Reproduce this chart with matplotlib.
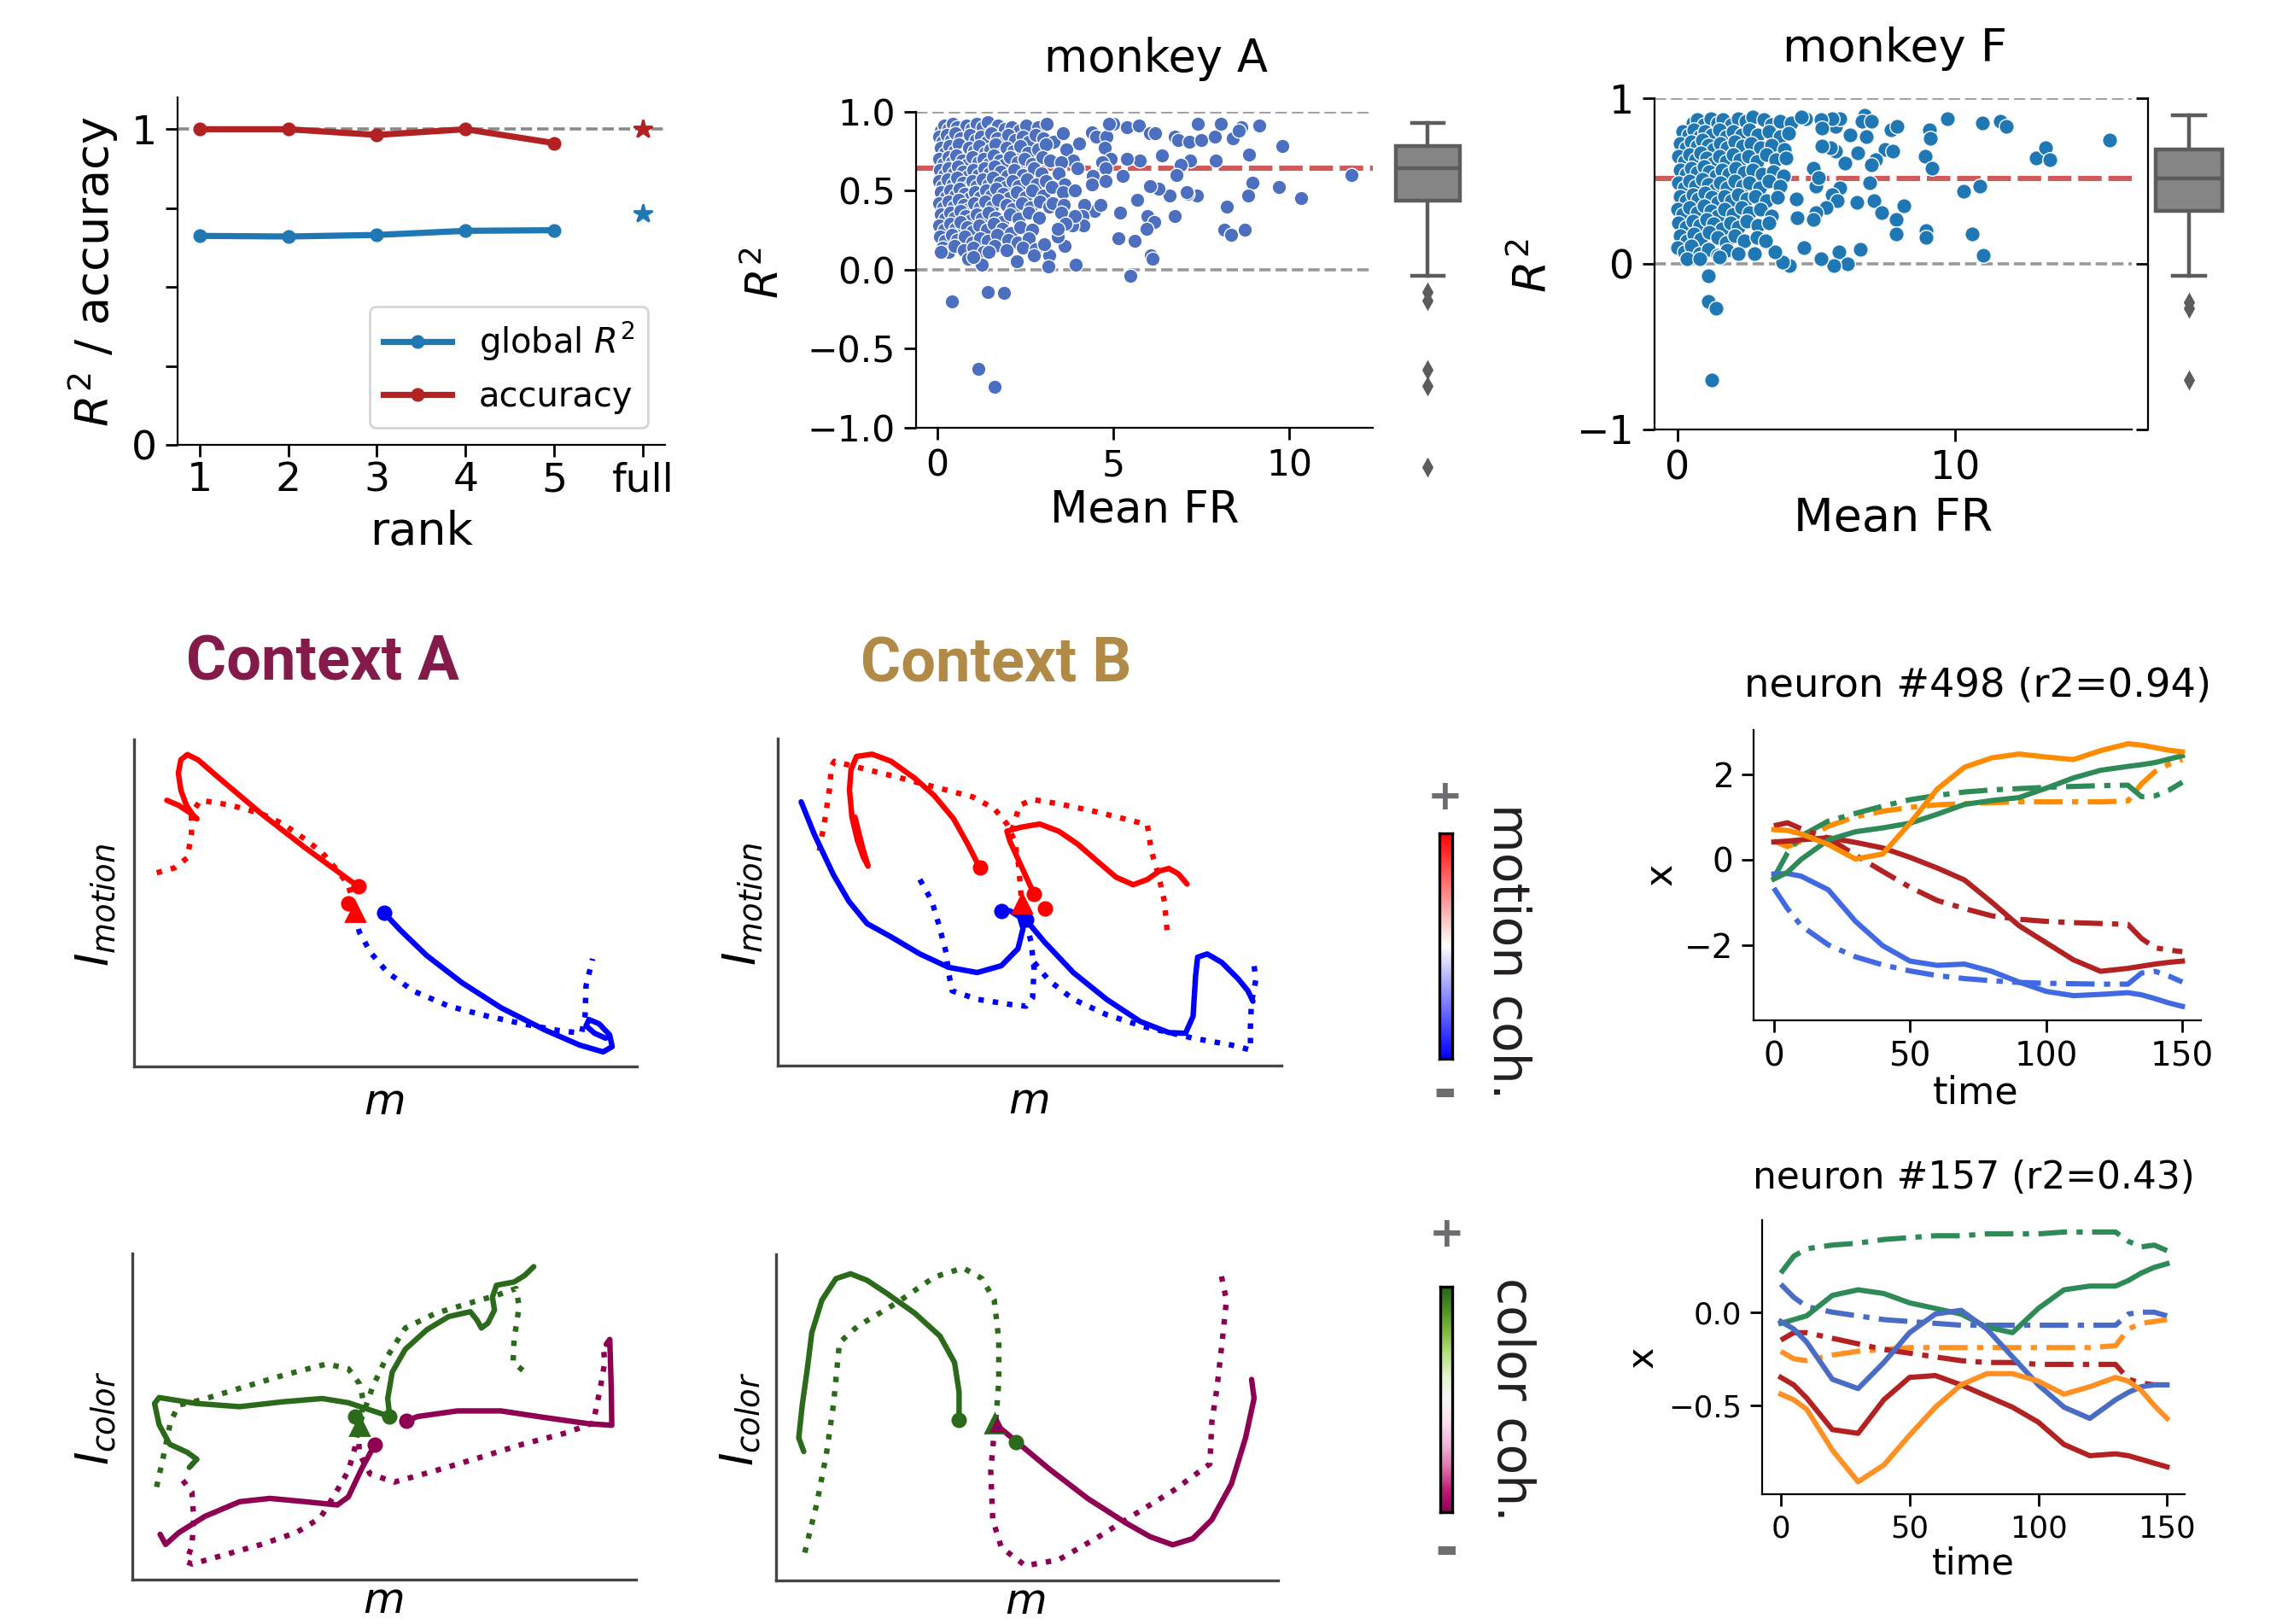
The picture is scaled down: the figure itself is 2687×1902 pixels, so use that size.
import matplotlib
matplotlib.use('Agg')
import matplotlib.pyplot as plt
import numpy as np

plt.rcParams['font.family'] = ['DejaVu Sans']
plt.rcParams['mathtext.fontset'] = 'dejavusans'

# ------------------------------------------------------------------ data
ranks = [1, 2, 3, 4, 5]
rank_ticklabels = ['1', '2', '3', '4', '5', 'full']
global_r2 = [0.662, 0.660, 0.665, 0.678, 0.680]
accuracy = [1.0, 1.0, 0.982, 1.0, 0.956]
full_rank_pos = 6
full_r2 = 0.734
full_acc = 1.0

monkeyA_pts = [
    (0.10,0.88),(0.21,0.91),(0.32,0.89),(0.44,0.92),(0.56,0.90),(0.68,0.87),(0.83,0.91),(0.97,0.89),(1.12,0.92),(1.28,0.90),(1.44,0.93),(1.58,0.88),(1.74,0.91),(1.92,0.89),(2.12,0.90),(2.33,0.88),(2.52,0.91),(2.88,0.90),(3.12,0.92),
    (0.06,0.84),(0.16,0.81),(0.27,0.85),(0.39,0.82),(0.52,0.86),(0.66,0.83),(0.79,0.80),(0.94,0.85),(1.09,0.82),(1.24,0.84),(1.41,0.81),(1.54,0.86),(1.71,0.83),(1.86,0.80),(2.02,0.85),(2.21,0.82),(2.42,0.84),(2.61,0.81),(2.79,0.85),(3.02,0.83),(3.31,0.81),
    (0.11,0.77),(0.23,0.74),(0.34,0.78),(0.49,0.75),(0.61,0.79),(0.76,0.73),(0.91,0.77),(1.04,0.75),(1.19,0.78),(1.36,0.74),(1.51,0.76),(1.66,0.79),(1.81,0.73),(1.96,0.77),(2.16,0.75),(2.37,0.78),(2.58,0.74),(2.86,0.76),(3.08,0.79),
    (0.05,0.70),(0.17,0.67),(0.31,0.71),(0.43,0.68),(0.54,0.72),(0.71,0.69),(0.84,0.66),(0.99,0.71),(1.16,0.68),(1.31,0.70),(1.46,0.67),(1.61,0.72),(1.77,0.69),(1.89,0.66),(2.06,0.71),(2.29,0.68),(2.49,0.70),(2.71,0.67),(2.98,0.71),(3.21,0.69),
    (0.08,0.63),(0.19,0.60),(0.33,0.64),(0.47,0.61),(0.59,0.65),(0.74,0.62),(0.89,0.59),(1.03,0.63),(1.18,0.60),(1.33,0.64),(1.49,0.61),(1.63,0.65),(1.79,0.62),(1.99,0.59),(2.19,0.63),(2.44,0.60),(2.74,0.64),(2.96,0.61),
    (0.05,0.56),(0.16,0.53),(0.29,0.57),(0.45,0.54),(0.57,0.58),(0.73,0.55),(0.87,0.52),(1.01,0.56),(1.13,0.53),(1.29,0.57),(1.47,0.54),(1.59,0.58),(1.78,0.55),(1.94,0.52),(2.13,0.56),(2.31,0.53),(2.56,0.57),(2.81,0.54),(3.09,0.56),
    (0.10,0.49),(0.24,0.46),(0.37,0.50),(0.51,0.47),(0.63,0.51),(0.79,0.48),(0.93,0.45),(1.07,0.49),(1.23,0.46),(1.39,0.50),(1.53,0.47),(1.69,0.51),(1.87,0.48),(2.04,0.45),(2.26,0.49),(2.51,0.46),(2.69,0.50),(3.01,0.47),
    (0.05,0.42),(0.18,0.39),(0.31,0.43),(0.47,0.40),(0.61,0.44),(0.75,0.41),(0.89,0.38),(1.06,0.42),(1.21,0.39),(1.36,0.43),(1.56,0.40),(1.74,0.44),(1.96,0.41),(2.14,0.38),(2.41,0.42),(2.66,0.39),(2.91,0.43),(3.19,0.40),
    (0.10,0.35),(0.23,0.32),(0.36,0.36),(0.49,0.33),(0.66,0.37),(0.81,0.34),(0.96,0.31),(1.11,0.35),(1.27,0.32),(1.46,0.36),(1.66,0.33),(1.84,0.30),(2.06,0.35),(2.31,0.32),(2.61,0.36),(2.89,0.33),
    (0.05,0.28),(0.21,0.25),(0.36,0.29),(0.51,0.26),(0.67,0.30),(0.86,0.27),(1.01,0.24),(1.19,0.28),(1.41,0.25),(1.61,0.29),(1.86,0.26),(2.09,0.23),(2.36,0.27),(2.71,0.25),
    (0.08,0.21),(0.23,0.18),(0.41,0.22),(0.57,0.19),(0.79,0.21),(0.99,0.17),(1.21,0.20),(1.44,0.18),(1.71,0.22),(2.01,0.19),(2.29,0.17),(2.61,0.20),
    (0.14,0.14),(0.31,0.11),(0.49,0.15),(0.76,0.12),(1.02,0.14),(1.31,0.11),(1.62,0.15),(1.98,0.12),(2.42,0.14),(2.79,0.13),
    (1.27,0.03),(0.89,0.07),(1.02,0.08),(2.27,0.05),(2.74,0.09),(0.11,0.11),(1.45,0.11),
    (0.43,-0.20),(1.43,-0.14),(1.89,-0.15),(1.17,-0.63),(1.62,-0.74),
    (4.40,0.87),(4.51,0.84),(4.82,0.84),(4.75,0.77),(4.93,0.70),(4.68,0.68),(4.79,0.64),(4.43,0.59),(4.40,0.54),(4.79,0.56),
    (4.48,0.37),(4.65,0.41),(4.19,0.41),(4.12,0.34),(4.15,0.28),(3.84,0.28),(3.94,0.03),(3.62,0.15),(3.43,0.21),(3.18,0.09),
    (3.15,0.02),(3.05,0.16),(4.03,0.80),(3.57,0.86),(3.68,0.76),(3.87,0.69),(3.98,0.64),(3.52,0.68),(3.45,0.61),(3.61,0.54),
    (3.26,0.52),(3.57,0.49),(3.91,0.50),(3.29,0.42),(3.59,0.41),(3.52,0.36),(3.90,0.34),(3.64,0.29),(3.43,0.26),
    (5.00,0.92),(5.38,0.90),(5.72,0.91),(6.04,0.86),(6.18,0.86),(6.74,0.84),(6.84,0.82),(7.16,0.81),(7.40,0.92),(7.51,0.82),
    (7.88,0.84),(8.05,0.92),(8.40,0.83),(8.65,0.90),(8.58,0.88),(9.14,0.91),(9.80,0.78),(8.86,0.73),(7.92,0.69),(7.19,0.69),
    (6.91,0.66),(6.80,0.60),(6.38,0.72),(5.75,0.69),(5.40,0.70),(5.26,0.59),(11.78,0.60),(8.95,0.55),(9.72,0.52),(10.33,0.45),
    (8.83,0.47),(8.23,0.40),(8.15,0.25),(8.34,0.22),(8.75,0.25),(7.38,0.47),(7.11,0.48),(7.08,0.49),(6.60,0.47),(6.28,0.51),
    (6.04,0.53),(5.68,0.44),(5.19,0.36),(5.98,0.34),(6.17,0.30),(5.96,0.26),(6.74,0.34),(5.14,0.20),(5.60,0.18),(6.07,0.09),
    (6.11,0.07),(5.49,-0.04),(4.89,0.92),
]
monkeyA_box = dict(med=0.641, q1=0.434, q3=0.784, whislo=-0.038, whishi=0.927,
                   fliers=[-0.144, -0.196, -0.633, -0.738, -1.248])
monkeyA_median = 0.641

monkeyF_pts = [
    (0.55,0.85),(0.70,0.87),(0.95,0.84),(1.20,0.88),(1.45,0.85),(1.65,0.87),(1.95,0.84),(2.20,0.88),(2.45,0.86),(2.70,0.89),(3.10,0.87),(3.40,0.84),(3.70,0.86),(4.10,0.85),
    (0.20,0.80),(0.40,0.78),(0.60,0.81),(0.80,0.77),(1.00,0.80),(1.25,0.78),(1.50,0.81),(1.75,0.77),(2.00,0.80),(2.30,0.78),(2.60,0.81),(2.90,0.78),(3.30,0.80),(3.70,0.77),(4.00,0.79),
    (0.10,0.73),(0.30,0.70),(0.50,0.74),(0.70,0.71),(0.90,0.75),(1.10,0.72),(1.30,0.69),(1.55,0.73),(1.80,0.70),(2.05,0.74),(2.35,0.71),(2.65,0.73),(3.00,0.70),(3.40,0.72),(3.85,0.69),
    (0.05,0.65),(0.25,0.62),(0.45,0.66),(0.65,0.63),(0.85,0.67),(1.05,0.64),(1.30,0.61),(1.50,0.65),(1.75,0.62),(2.00,0.66),(2.25,0.63),(2.55,0.65),(2.85,0.62),(3.20,0.66),(3.55,0.63),(3.90,0.64),
    (0.10,0.57),(0.30,0.54),(0.50,0.58),(0.70,0.55),(0.95,0.59),(1.15,0.56),(1.40,0.53),(1.60,0.57),(1.85,0.54),(2.10,0.58),(2.40,0.55),(2.70,0.57),(3.05,0.54),(3.45,0.56),(3.80,0.53),
    (0.05,0.49),(0.25,0.46),(0.45,0.50),(0.65,0.47),(0.90,0.51),(1.10,0.48),(1.35,0.45),(1.55,0.49),(1.80,0.46),(2.05,0.50),(2.35,0.47),(2.60,0.49),(2.95,0.46),(3.30,0.50),(3.70,0.47),
    (0.10,0.41),(0.30,0.38),(0.55,0.42),(0.75,0.39),(1.00,0.43),(1.25,0.40),(1.45,0.37),(1.70,0.41),(1.95,0.38),(2.20,0.42),(2.50,0.39),(2.80,0.41),(3.20,0.38),(3.60,0.40),
    (0.00,0.33),(0.20,0.30),(0.45,0.34),(0.70,0.31),(0.95,0.35),(1.20,0.32),(1.45,0.29),(1.70,0.33),(2.00,0.30),(2.30,0.34),(2.60,0.31),(3.00,0.33),(3.40,0.29),
    (0.05,0.25),(0.30,0.22),(0.55,0.26),(0.80,0.23),(1.05,0.27),(1.30,0.24),(1.60,0.21),(1.90,0.25),(2.20,0.22),(2.50,0.26),(2.90,0.23),(3.30,0.25),
    (0.10,0.17),(0.35,0.14),(0.60,0.18),(0.85,0.15),(1.15,0.19),(1.45,0.16),(1.75,0.13),(2.05,0.17),(2.40,0.14),(2.85,0.16),
    (0.00,0.10),(0.25,0.07),(0.50,0.11),(0.80,0.06),(1.10,0.09),(1.45,0.05),(1.80,0.08),(2.20,0.06),
    (0.35,0.03),(0.80,0.03),(1.50,0.04),(2.75,0.06),
    (1.10,-0.07),(1.10,-0.23),(1.40,-0.27),(1.23,-0.70),
    (6.74,0.90),(6.65,0.86),(6.97,0.86),(7.67,0.81),(7.90,0.83),(6.21,0.78),(6.78,0.77),(9.72,0.88),(9.05,0.81),(9.09,0.76),
    (8.90,0.65),(9.17,0.58),(10.97,0.85),(11.61,0.86),(11.84,0.83),(15.55,0.75),(12.90,0.64),(13.24,0.70),(13.39,0.63),(7.48,0.69),
    (7.73,0.68),(7.12,0.63),(6.99,0.60),(6.50,0.67),(6.02,0.61),(6.91,0.49),(10.30,0.44),(10.89,0.47),(6.46,0.37),(7.06,0.38),
    (7.35,0.31),(8.13,0.35),(7.86,0.27),(7.88,0.18),(8.94,0.20),(8.94,0.16),(10.59,0.18),(11.00,0.05),(6.59,0.09),(5.80,0.07),
    (6.11,0.00),(5.64,-0.01),(5.17,0.03),(5.85,0.46),(5.55,0.42),(5.74,0.38),(5.36,0.34),(4.98,0.47),(4.98,0.31),(4.89,0.27),
    (4.55,0.10),(5.70,0.68),(5.51,0.70),(5.21,0.71),(4.89,0.58),(5.08,0.52),(5.70,0.83),(5.83,0.88),(5.55,0.88),(5.17,0.87),
    (5.21,0.82),(4.60,0.88),(4.47,0.89),(4.26,0.39),(4.30,0.28),(4.03,-0.01),(3.79,0.01),(3.50,0.07),(3.18,0.14),(2.77,0.06),
]
monkeyF_box = dict(med=0.518, q1=0.322, q3=0.694, whislo=-0.074, whishi=0.898,
                   fliers=[-0.235, -0.27, -0.704])
monkeyF_median = 0.517

# trajectories (arbitrary units, 0-100 on both axes)
ctxA_mot_red_solid = [(44.6,55.0),(34.0,66.9),(25.3,77.3),(16.6,88.6),(12.7,93.8),(10.6,95.4),(9.3,93.8),(8.8,89.7),(9.3,84.5),(10.4,79.9),(11.9,76.4),(12.5,75.7),(11.4,77.3),(8.8,79.9),(6.5,81.4)]
ctxA_mot_red_dot = [(4.5,59.2),(8.0,60.7),(10.6,63.8),(11.4,71.1),(11.4,77.3),(13.2,81.4),(19.2,79.9),(25.3,77.3),(29.6,74.2),(34.0,69.5),(37.4,65.4),(40.0,60.7),(42.6,55.6),(43.5,50.4),(43.9,46.8)]
ctxA_mot_blue_solid = [(49.7,47.0),(53.0,41.6),(58.2,33.9),(65.2,25.6),(73.0,17.9),(81.6,11.2),(88.6,6.5),(93.3,4.4),(95.1,6.0),(94.6,9.6),(92.5,13.0),(90.5,14.3),(89.9,12.4),(91.6,10.1),(93.8,8.6)]
ctxA_mot_blue_dot = [(43.9,46.3),(44.8,41.1),(47.0,34.9),(50.4,28.7),(55.6,23.0),(62.6,18.4),(70.4,15.3),(77.3,13.0),(84.2,11.0),(89.0,10.1),(89.7,15.3),(89.9,24.6),(91.2,32.9)]
ctxA_mot_red_ends = [(44.6,55.0),(42.6,49.9)]
ctxA_mot_blue_ends = [(49.7,47.0)]
ctxA_mot_start = (43.9,47.3)

ctxB_mot_red_solid1 = [(40.1,60.5),(37.9,67.2),(34.9,75.5),(31.0,82.7),(27.2,87.9),(22.5,93.1),(18.7,95.3),(15.6,94.6),(14.5,90.5),(14.2,84.3),(14.7,76.0),(15.8,68.8),(17.0,63.6),(17.9,61.0),(16.8,66.7),(15.3,76.0)]
ctxB_mot_red_solid2 = [(50.9,52.4),(48.2,61.5),(46.1,68.6),(45.5,71.7),(48.2,72.9),(52.0,73.9),(55.8,71.7),(59.6,67.7),(63.4,62.6),(67.2,57.6),(70.6,55.3),(73.4,56.9),(75.8,59.5),(77.7,60.3),(79.6,58.6),(81.3,55.5)]
ctxB_mot_red_dot1 = [(8.2,65.7),(9.4,76.0),(10.3,85.3),(10.6,91.5),(11.2,93.1),(15.8,91.3),(23.4,88.4),(31.0,85.3),(38.7,82.2),(43.0,78.6),(45.5,73.9),(47.0,68.8),(47.8,61.5),(48.2,54.3),(48.4,50.2)]
ctxB_mot_red_dot2 = [(46.5,71.9),(48.0,79.6),(50.6,81.4),(55.8,80.1),(63.4,77.6),(73.4,73.7),(74.2,65.7),(75.6,58.4),(76.8,50.2),(77.4,40.3)]
ctxB_mot_blue_solid1 = [(4.6,80.7),(7.2,70.8),(11.0,58.4),(14.1,50.2),(17.7,43.4),(22.5,39.3),(28.2,34.1),(33.9,30.0),(39.6,28.4),(44.4,30.5),(47.7,35.7),(48.7,41.9),(48.0,45.5),(46.1,47.3),(44.4,47.3)]
ctxB_mot_blue_solid2 = [(49.3,44.5),(53.0,37.7),(58.7,28.4),(65.3,20.2),(72.0,13.4),(77.7,10.0),(81.0,9.8),(82.5,15.0),(83.0,27.4),(83.4,33.1),(85.3,34.1),(88.2,31.5),(91.5,26.4),(93.4,22.8),(94.4,19.6)]
ctxB_mot_blue_dot1 = [(28.2,56.9),(30.6,50.2),(32.0,42.9),(33.4,34.6),(33.9,28.4),(34.6,22.8),(39.6,20.2),(46.3,18.6),(49.3,18.1),(50.6,20.7),(50.9,29.5),(50.3,37.7),(49.3,44.0)]
ctxB_mot_blue_dot2 = [(50.9,31.5),(53.9,25.9),(58.7,20.2),(65.3,15.5),(73.0,11.7),(82.5,8.3),(90.1,6.2),(93.9,4.7),(93.9,11.9),(94.1,19.1),(95.0,26.4),(94.4,32.8)]
ctxB_mot_red_ends = [(40.1,60.5),(50.9,52.4),(53.0,48.1)]
ctxB_mot_blue_ends = [(44.4,47.3),(49.3,44.5)]
ctxB_mot_start = (48.4,49.6)

ctxA_col_green_solid1 = [(51.1,50.0),(50.7,55.5),(51.6,63.6),(54.2,70.6),(58.5,76.6),(62.8,80.6),(67.1,82.1),(68.4,79.6),(69.3,77.1),(70.6,78.6),(71.9,82.6),(71.5,86.6),(72.3,90.2),(75.8,91.2),(77.9,93.2),(79.7,95.9)]
ctxA_col_green_solid2 = [(51.1,50.0),(47.2,52.0),(42.9,54.2),(37.7,55.5),(29.9,54.5),(21.3,53.0),(12.6,54.0),(5.3,55.8),(4.4,54.0),(5.3,47.5),(7.4,41.5),(10.9,39.0),(12.8,36.9),(11.3,34.4)]
ctxA_col_green_dot1 = [(4.8,28.4),(6.1,37.4),(7.6,48.5),(9.2,53.5),(13.5,55.0),(22.1,59.0),(29.9,62.6),(38.6,66.1),(42.9,64.6),(45.1,60.0),(45.9,54.5),(45.3,48.5)]
ctxA_col_green_dot2 = [(45.3,48.5),(47.7,59.0),(50.3,67.6),(54.2,77.1),(60.2,81.6),(67.1,84.8),(72.3,87.1),(76.2,89.2),(76.8,83.6),(75.8,73.6),(75.6,66.6),(77.8,63.8)]
ctxA_col_mag_solid1 = [(48.1,41.3),(45.5,33.9),(42.9,25.4),(40.7,22.9),(34.3,23.9),(27.3,24.9),(21.3,23.9),(14.4,19.4),(9.2,14.4),(6.6,10.8),(5.5,13.9)]
ctxA_col_mag_solid2 = [(54.4,48.7),(56.7,50.0),(64.5,51.7),(73.2,51.7),(81.8,49.7),(90.5,47.8),(95.2,47.3),(95.1,58.5),(94.8,73.6),(94.1,72.1)]
ctxA_col_mag_dot1 = [(10.0,30.4),(11.8,26.9),(12.2,18.4),(11.8,10.3),(10.7,5.5),(11.9,4.8),(18.7,7.8),(25.6,10.8),(32.5,14.4),(37.3,18.9),(40.3,26.4),(42.9,33.4),(44.2,40.5),(44.8,46.0)]
ctxA_col_mag_dot2 = [(44.8,46.0),(45.1,38.5),(47.2,32.4),(52.0,29.9),(60.2,33.4),(68.9,37.4),(77.5,41.5),(86.2,45.0),(91.5,48.0),(92.9,58.5),(93.8,66.6),(93.5,71.8)]
ctxA_col_green_ends = [(51.1,50.0),(44.2,50.0)]
ctxA_col_mag_ends = [(48.1,41.3),(54.4,48.7)]
ctxA_col_start = (45.1,47.0)

ctxB_col_green_solid = [(36.5,49.2),(36.5,57.8),(35.6,66.8),(32.7,74.9),(27.7,81.9),(22.2,87.9),(18.2,92.0),(14.9,94.0),(12.0,92.5),(9.2,85.9),(7.2,75.9),(6.3,64.8),(5.3,53.8),(4.6,43.7),(5.6,39.5)]
ctxB_col_green_dot = [(5.8,8.5),(8.2,23.6),(10.1,38.7),(11.5,53.8),(12.7,72.9),(16.3,77.9),(23.9,84.9),(31.6,93.0),(37.3,95.8),(41.1,92.5),(43.5,85.9),(44.4,73.9),(44.4,60.8),(43.8,48.7)]
ctxB_col_mag_solid = [(43.9,47.7),(47.8,42.7),(54.4,34.2),(62.1,25.1),(69.7,17.6),(74.5,13.4),(79.0,10.9),(83.0,12.8),(86.8,18.6),(90.7,29.6),(93.5,43.7),(95.2,55.8),(94.7,61.6)]
ctxB_col_mag_dot = [(43.6,47.2),(42.8,33.7),(43.2,18.6),(44.9,10.1),(49.7,4.5),(56.3,6.3),(64.0,13.1),(71.6,20.4),(79.2,27.6),(86.4,35.7),(86.8,48.7),(87.8,58.8),(88.9,73.9),(89.7,85.9),(88.6,94.0)]
ctxB_col_green_ends = [(36.5,49.2),(47.8,42.5)]
ctxB_col_start_green = (43.5,48.2)
ctxB_col_start_mag = (44.1,47.5)

# single-neuron traces
time_pts = [0, 5, 10, 20, 30, 40, 50, 60, 70, 80, 90, 100, 110, 120, 130, 135, 140, 145, 150]
n498_orange_solid = [0.70,0.68,0.60,0.35,0.01,0.13,0.85,1.65,2.16,2.38,2.47,2.40,2.34,2.55,2.71,2.68,2.62,2.56,2.52]
n498_orange_dd = [0.43,0.30,0.43,0.78,1.00,1.13,1.22,1.28,1.31,1.33,1.35,1.35,1.35,1.35,1.37,1.77,2.06,2.23,2.34]
n498_green_solid = [-0.46,-0.30,0.00,0.46,0.65,0.74,0.85,1.06,1.29,1.38,1.45,1.67,1.91,2.09,2.18,2.22,2.27,2.35,2.43]
n498_green_dd = [-0.43,0.15,0.55,0.90,1.08,1.25,1.40,1.50,1.58,1.63,1.66,1.69,1.71,1.73,1.74,1.47,1.49,1.62,1.81]
n498_red_solid = [0.41,0.43,0.46,0.51,0.40,0.27,0.05,-0.20,-0.48,-1.00,-1.55,-1.95,-2.35,-2.62,-2.55,-2.50,-2.45,-2.41,-2.38]
n498_red_dd = [0.79,0.86,0.72,0.50,0.10,-0.28,-0.65,-0.96,-1.15,-1.32,-1.40,-1.45,-1.48,-1.50,-1.52,-1.85,-2.07,-2.12,-2.16]
n498_blue_solid = [-0.34,-0.33,-0.39,-0.71,-1.45,-2.02,-2.38,-2.48,-2.45,-2.62,-2.87,-3.09,-3.19,-3.16,-3.12,-3.17,-3.26,-3.36,-3.44]
n498_blue_dd = [-0.67,-1.15,-1.55,-2.00,-2.28,-2.47,-2.61,-2.72,-2.79,-2.84,-2.88,-2.90,-2.91,-2.92,-2.92,-2.66,-2.62,-2.73,-2.87]

n157_green_dd = [0.21,0.30,0.34,0.36,0.37,0.39,0.40,0.41,0.41,0.42,0.42,0.42,0.43,0.43,0.43,0.38,0.35,0.36,0.33]
n157_green_solid = [-0.06,-0.04,-0.02,0.09,0.12,0.10,0.05,0.02,-0.01,-0.08,-0.11,0.02,0.12,0.14,0.14,0.17,0.21,0.24,0.26]
n157_blue_dd = [0.15,0.08,0.03,0.00,-0.02,-0.04,-0.05,-0.06,-0.07,-0.07,-0.07,-0.07,-0.07,-0.07,-0.07,-0.01,0.00,0.00,-0.02]
n157_blue_solid = [-0.05,-0.09,-0.16,-0.36,-0.41,-0.27,-0.11,-0.01,0.01,-0.09,-0.24,-0.39,-0.51,-0.57,-0.47,-0.43,-0.40,-0.39,-0.39]
n157_orange_dd = [-0.21,-0.25,-0.26,-0.23,-0.21,-0.20,-0.19,-0.19,-0.19,-0.19,-0.19,-0.19,-0.19,-0.19,-0.18,-0.09,-0.06,-0.05,-0.04]
n157_red_dd = [-0.15,-0.11,-0.11,-0.14,-0.17,-0.20,-0.22,-0.24,-0.26,-0.27,-0.27,-0.28,-0.28,-0.28,-0.28,-0.36,-0.38,-0.39,-0.39]
n157_red_solid = [-0.35,-0.39,-0.46,-0.63,-0.65,-0.47,-0.35,-0.34,-0.39,-0.45,-0.51,-0.59,-0.71,-0.77,-0.76,-0.77,-0.79,-0.81,-0.83]
n157_orange_solid = [-0.44,-0.47,-0.52,-0.74,-0.91,-0.82,-0.66,-0.51,-0.39,-0.33,-0.33,-0.37,-0.44,-0.40,-0.35,-0.37,-0.42,-0.50,-0.57]

# ------------------------------------------------------------------ styles
C_RED_LINE = '#b22222'
C_BLUE_LINE = '#1f77b4'
C_MOT_RED = '#ff0000'
C_MOT_BLUE = '#0000ff'
C_GREEN = '#2b6a1b'
C_MAG = '#8e0152'
C_CTXA = '#841a4a'
C_CTXB = '#b08a46'
N_RED = '#b22222'
N_BLUE = '#4169e1'
N_BLUE2 = '#4a6cc4'
N_GREEN = '#2e8b57'
N_ORANGE = '#ff8c00'
N_ORANGE2 = '#ff9124'


def xy(pts):
    return [p[0] for p in pts], [p[1] for p in pts]


fig = plt.figure(figsize=(13.435, 9.51), dpi=200)


def px_axes(l, t, r, b):
    W, H = 2687.0, 1902.0
    return fig.add_axes([l / W, 1 - b / H, (r - l) / W, (b - t) / H])


# ------------------------------------------------------------------ panel 1
ax1 = px_axes(207.6, 114.4, 779.2, 520.9)
ax1.axhline(1.0, color='#888888', ls='--', lw=1.3, zorder=1)
ax1.plot(ranks, global_r2, '-o', color=C_BLUE_LINE, lw=2.6, ms=4.8, label='global $R^2$')
ax1.plot(ranks, accuracy, '-o', color=C_RED_LINE, lw=2.6, ms=4.8, label='accuracy')
ax1.plot([full_rank_pos], [full_r2], '*', color=C_BLUE_LINE, ms=8)
ax1.plot([full_rank_pos], [full_acc], '*', color=C_RED_LINE, ms=8)
ax1.set_xlim(0.75, 6.25)
ax1.set_ylim(0, 1.1)
ax1.set_xticks(range(1, 7))
ax1.set_xticklabels(rank_ticklabels)
ax1.set_yticks([0, 0.25, 0.5, 0.75, 1.0])
ax1.set_yticklabels(['0', '', '', '', '1'])
ax1.tick_params(labelsize=17, length=5, width=1)
ax1.tick_params(axis='x', pad=2)
for s in ['top', 'right']:
    ax1.spines[s].set_visible(False)
ax1.set_xlabel('rank', fontsize=19.5)
ax1.set_ylabel('$R^2$ / accuracy', fontsize=19.5)
ax1.xaxis.label.set_va('center')
ax1.yaxis.label.set_va('center')
ax1.xaxis.set_label_coords(0.50, -0.25)
ax1.yaxis.set_label_coords(-0.172, 0.50)
ax1.legend(loc='lower right', fontsize=14.4, handlelength=2.0)


# ------------------------------------------------------------------ monkey panels
def monkey_panel(rect, box_rect, pts, box, median, xlim, yticks, xticks, title,
                 color, fs_tick, fs_lab, fs_title, lab_coords, box_spine, s):
    ax = px_axes(*rect)
    ax.axhline(1.0, color='#999999', ls='--', lw=1.3, zorder=1)
    ax.axhline(0.0, color='#999999', ls='--', lw=1.3, zorder=1)
    ax.axhline(median, color='#d05a5a', ls=(0, (4.5, 1.3)), lw=2.2, zorder=1)
    xs, ys = xy(pts)
    ax.scatter(xs, ys, s=s, color=color, edgecolor='white', linewidth=0.5, zorder=2)
    ax.set_xlim(*xlim)
    ax.set_ylim(-1, 1)
    ax.set_yticks(yticks)
    ax.set_xticks(xticks)
    ax.tick_params(labelsize=fs_tick, length=5, width=1)
    for sp in ['top', 'right']:
        ax.spines[sp].set_visible(False)
    ax.set_xlabel('Mean FR', fontsize=fs_lab)
    ax.set_ylabel('$R^2$', fontsize=fs_lab)
    ax.xaxis.label.set_va('center')
    ax.yaxis.label.set_va('center')
    ax.xaxis.set_label_coords(*lab_coords[0])
    ax.yaxis.set_label_coords(*lab_coords[1])
    ax.text(lab_coords[2][0], lab_coords[2][1], title, transform=ax.transAxes,
            ha='center', va='center', fontsize=fs_title)

    bx = px_axes(*box_rect)
    res = bx.bxp([box], positions=[0], widths=0.8, patch_artist=True, showfliers=True,
                 boxprops=dict(facecolor='#858586', edgecolor='#5c5c5c', linewidth=1.6),
                 medianprops=dict(color='#5c5c5c', linewidth=1.6),
                 whiskerprops=dict(color='#5c5c5c', linewidth=1.6),
                 capprops=dict(color='#5c5c5c', linewidth=1.6),
                 flierprops=dict(marker='d', markerfacecolor='#5c5c5c',
                                 markeredgecolor='#5c5c5c', markersize=4.5))
    for ln in res['fliers']:
        ln.set_clip_on(False)
    bx.set_xlim(-0.5, 0.5)
    bx.set_ylim(-1, 1)
    bx.set_xticks([])
    for sp in ['top', 'right', 'bottom']:
        bx.spines[sp].set_visible(False)
    if box_spine:
        bx.set_yticks([-1, 0, 1])
        bx.set_yticklabels(['', '', ''])
        bx.tick_params(length=5, width=1)
    else:
        bx.spines['left'].set_visible(False)
        bx.set_yticks([])
    bx.patch.set_alpha(0)
    return ax


monkey_panel((1072.6, 130.5, 1608.1, 500.9), (1625.9, 130.5, 1718.9, 500.9),
             monkeyA_pts, monkeyA_box, monkeyA_median, (-0.61, 12.38),
             [-1.0, -0.5, 0.0, 0.5, 1.0], [0, 5, 10], 'monkey A', '#4c6fbf',
             15.3, 18.5, 19, [(0.50, -0.26), (-0.327, 0.49), (0.525, 1.165)], False, 36)

monkey_panel((1937.7, 115.3, 2497.0, 502.6), (2515.5, 115.3, 2612.5, 502.6),
             monkeyF_pts, monkeyF_box, monkeyF_median, (-0.83, 16.34),
             [-1, 0, 1], [0, 10], 'monkey F', '#1f77b4',
             16.5, 19.5, 19.5, [(0.50, -0.27), (-0.252, 0.493), (0.504, 1.151)], True, 40)


# ------------------------------------------------------------------ trajectory panels
def traj_axes(rect, ylabel, lab_x):
    ax = px_axes(*rect)
    ax.set_xlim(0, 100)
    ax.set_ylim(0, 100)
    ax.set_xticks([])
    ax.set_yticks([])
    for sp in ['top', 'right']:
        ax.spines[sp].set_visible(False)
    for sp in ['left', 'bottom']:
        ax.spines[sp].set_color('#444444')
        ax.spines[sp].set_linewidth(1.2)
    ax.set_xlabel('$m$', fontsize=18)
    ax.set_ylabel(ylabel, fontsize=19)
    ax.xaxis.label.set_va('center')
    ax.yaxis.label.set_va('center')
    ax.xaxis.set_label_coords(0.497, -0.11)
    ax.yaxis.set_label_coords(lab_x, 0.495)
    return ax


def lines(ax, pts, color, style):
    xs, ys = xy(pts)
    ax.plot(xs, ys, color=color, ls=style, lw=2.3, solid_capstyle='round',
            solid_joinstyle='round')


def dots(ax, pts, color, marker='o', ms=5.5):
    xs, ys = xy(pts)
    ax.plot(xs, ys, ls='none', marker=marker, color=color, ms=ms, zorder=5)


axA = traj_axes((157.1, 866.1, 745.9, 1248.8), '$I_{motion}$', -0.076)
lines(axA, ctxA_mot_red_solid, C_MOT_RED, '-')
lines(axA, ctxA_mot_red_dot, C_MOT_RED, ':')
lines(axA, ctxA_mot_blue_solid, C_MOT_BLUE, '-')
lines(axA, ctxA_mot_blue_dot, C_MOT_BLUE, ':')
dots(axA, ctxA_mot_red_ends, C_MOT_RED)
dots(axA, ctxA_mot_blue_ends, C_MOT_BLUE)
dots(axA, [ctxA_mot_start], C_MOT_RED, '^', 8)

axB = traj_axes((911.3, 865.3, 1500.6, 1247.6), '$I_{motion}$', -0.070)
lines(axB, ctxB_mot_red_solid1, C_MOT_RED, '-')
lines(axB, ctxB_mot_red_solid2, C_MOT_RED, '-')
lines(axB, ctxB_mot_red_dot1, C_MOT_RED, ':')
lines(axB, ctxB_mot_red_dot2, C_MOT_RED, ':')
lines(axB, ctxB_mot_blue_solid1, C_MOT_BLUE, '-')
lines(axB, ctxB_mot_blue_solid2, C_MOT_BLUE, '-')
lines(axB, ctxB_mot_blue_dot1, C_MOT_BLUE, ':')
lines(axB, ctxB_mot_blue_dot2, C_MOT_BLUE, ':')
dots(axB, ctxB_mot_red_ends, C_MOT_RED)
dots(axB, ctxB_mot_blue_ends, C_MOT_BLUE)
dots(axB, [ctxB_mot_start], C_MOT_RED, '^', 8)

axC = traj_axes((155.1, 1467.8, 744.9, 1850.1), '$I_{color}$', -0.073)
axC.xaxis.set_label_coords(0.497, -0.066)
lines(axC, ctxA_col_green_solid1, C_GREEN, '-')
lines(axC, ctxA_col_green_solid2, C_GREEN, '-')
lines(axC, ctxA_col_green_dot1, C_GREEN, ':')
lines(axC, ctxA_col_green_dot2, C_GREEN, ':')
lines(axC, ctxA_col_mag_solid1, C_MAG, '-')
lines(axC, ctxA_col_mag_solid2, C_MAG, '-')
lines(axC, ctxA_col_mag_dot1, C_MAG, ':')
lines(axC, ctxA_col_mag_dot2, C_MAG, ':')
dots(axC, ctxA_col_green_ends, C_GREEN)
dots(axC, ctxA_col_mag_ends, C_MAG)
dots(axC, [ctxA_col_start], C_GREEN, '^', 8)

axD = traj_axes((908.5, 1468.9, 1497.2, 1850.9), '$I_{color}$', -0.070)
axD.xaxis.set_label_coords(0.497, -0.066)
lines(axD, ctxB_col_green_solid, C_GREEN, '-')
lines(axD, ctxB_col_green_dot, C_GREEN, ':')
lines(axD, ctxB_col_mag_solid, C_MAG, '-')
lines(axD, ctxB_col_mag_dot, C_MAG, ':')
dots(axD, ctxB_col_green_ends, C_GREEN)
dots(axD, [ctxB_col_start_green], C_GREEN, '^', 8)
dots(axD, [ctxB_col_start_mag], C_MAG, '^', 5)

fig.text(377.5 / 2687, 1 - 777 / 1902, 'Context A', color=C_CTXA, fontsize=26,
         fontweight='bold', family=['Roboto', 'DejaVu Sans'], ha='center', va='center')
fig.text(1167.2 / 2687, 1 - 779 / 1902, 'Context B', color=C_CTXB, fontsize=26,
         fontweight='bold', family=['Roboto', 'DejaVu Sans'], ha='center', va='center')

# ------------------------------------------------------------------ colorbars
grad = np.linspace(0, 1, 256).reshape(-1, 1)
cb1 = px_axes(1685.5, 975.7, 1700.7, 1240.4)
cb1.imshow(grad, cmap='bwr', aspect='auto', origin='lower', extent=(0, 1, 0, 1))
cb2 = px_axes(1686.9, 1507.0, 1701.4, 1771.0)
cb2.imshow(grad, cmap='PiYG', aspect='auto', origin='lower', extent=(0, 1, 0, 1))
for cb in (cb1, cb2):
    cb.set_xticks([])
    cb.set_yticks([])
    for sp in cb.spines.values():
        sp.set_color('black')
        sp.set_linewidth(1.2)

gray_pm = '#6d6e71'
fig.text(1692.3 / 2687, 1 - 934 / 1902, '+', fontsize=18, fontweight='bold', color=gray_pm, ha='center', va='center')
fig.text(1692.3 / 2687, 1 - 1281 / 1902, '-', fontsize=24, fontweight='bold', color=gray_pm, ha='center', va='center')
fig.text(1694.3 / 2687, 1 - 1446 / 1902, '+', fontsize=18, fontweight='bold', color=gray_pm, ha='center', va='center')
fig.text(1694.3 / 2687, 1 - 1817 / 1902, '-', fontsize=24, fontweight='bold', color=gray_pm, ha='center', va='center')
fig.text(1765.6 / 2687, 1 - 1114.4 / 1902, 'motion coh.', fontsize=21, rotation=270,
         color='#231f20', ha='center', va='center')
fig.text(1770.7 / 2687, 1 - 1639 / 1902, 'color coh.', fontsize=21, rotation=270,
         color='#231f20', ha='center', va='center')


# ------------------------------------------------------------------ neuron panels
def neuron_panel(rect, series, title, ylim, yticks, fs_tick, fs_lab, fs_title, coords):
    ax = px_axes(*rect)
    for vals, color, style in series:
        ax.plot(time_pts, vals, color=color, ls=style, lw=2.2, solid_joinstyle='round')
    ax.set_xlim(-7.4, 156.7)
    ax.set_ylim(*ylim)
    ax.set_xticks([0, 50, 100, 150])
    ax.set_yticks(yticks)
    ax.tick_params(labelsize=fs_tick, length=5, width=1)
    for sp in ['top', 'right']:
        ax.spines[sp].set_visible(False)
    ax.set_xlabel('time', fontsize=fs_lab)
    ax.set_ylabel('x', fontsize=fs_lab)
    ax.xaxis.label.set_va('center')
    ax.yaxis.label.set_va('center')
    ax.xaxis.set_label_coords(*coords[0])
    ax.yaxis.set_label_coords(*coords[1])
    ax.text(coords[2][0], coords[2][1], title, transform=ax.transAxes, ha='center',
            va='center', fontsize=fs_title)
    return ax


dd = (0, (5.5, 1.8, 1.2, 1.8))
neuron_panel((2054.1, 854.6, 2577.6, 1194.6),
             [(n498_orange_dd, N_ORANGE, dd), (n498_green_dd, N_GREEN, dd),
              (n498_red_dd, N_RED, dd), (n498_blue_dd, N_BLUE, dd),
              (n498_blue_solid, N_BLUE, '-'), (n498_red_solid, N_RED, '-'),
              (n498_green_solid, N_GREEN, '-'), (n498_orange_solid, N_ORANGE, '-')],
             'neuron #498 (r2=0.94)', (-3.76, 3.04), [-2, 0, 2], 14, 16, 16.7,
             [(0.496, -0.25), (-0.208, 0.501), (0.501, 1.152)])

neuron_panel((2063.6, 1428.5, 2558.5, 1750.3),
             [(n157_green_dd, N_GREEN, dd), (n157_blue_dd, N_BLUE2, dd),
              (n157_orange_dd, N_ORANGE2, dd), (n157_red_dd, N_RED, dd),
              (n157_green_solid, N_GREEN, '-'), (n157_blue_solid, N_BLUE2, '-'),
              (n157_red_solid, N_RED, '-'), (n157_orange_solid, N_ORANGE2, '-')],
             'neuron #157 (r2=0.43)', (-0.978, 0.496), [-0.5, 0.0], 12.8, 15.5, 15.8,
             [(0.50, -0.253), (-0.282, 0.499), (0.501, 1.153)])

fig.savefig('out.png', dpi=200)
